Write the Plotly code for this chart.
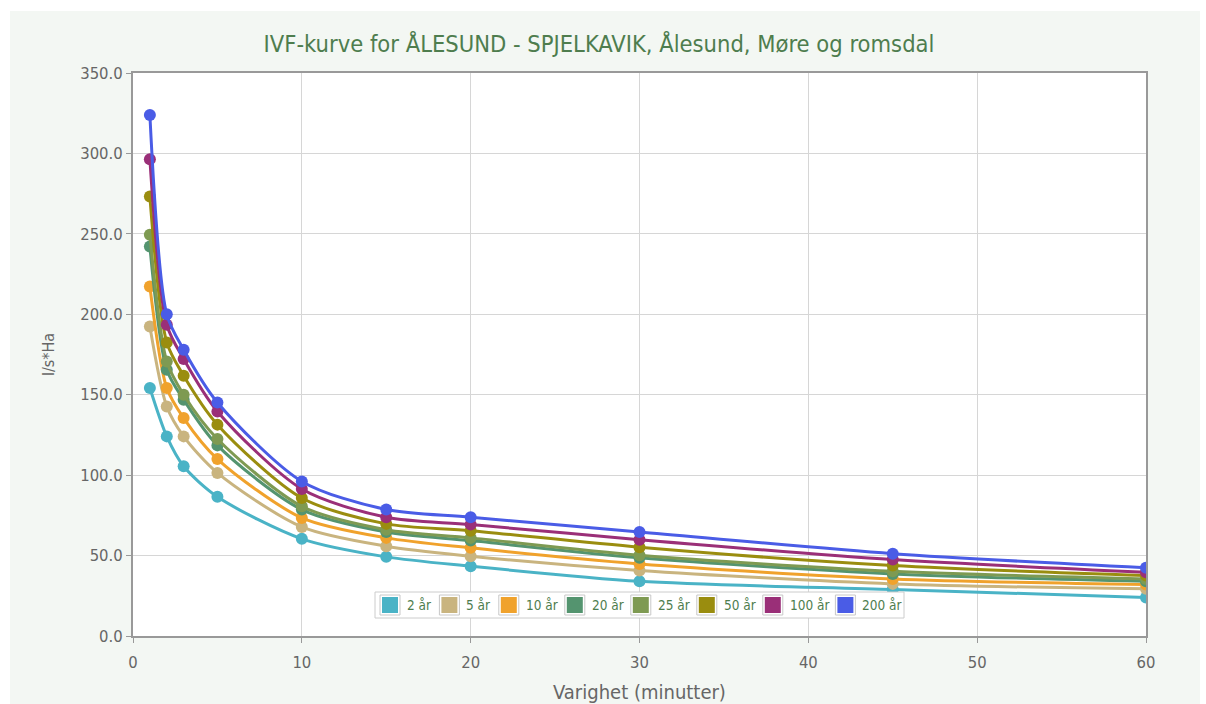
import plotly.graph_objects as go

# Duration (minutes) and intensity (l/s*Ha) per return period
varighet = [1, 2, 3, 5, 10, 15, 20, 30, 45, 60]

aar_2 = [154.2, 124.1, 105.5, 86.5, 60.4, 49.2, 43.4, 34.0, 28.9, 24.0]
aar_5 = [192.4, 142.7, 124.1, 101.4, 67.8, 55.8, 49.6, 40.7, 32.4, 29.3]
aar_10 = [217.3, 154.2, 135.5, 110.0, 73.4, 61.0, 54.8, 44.8, 35.5, 32.0]
aar_20 = [242.1, 165.5, 146.9, 118.5, 78.6, 64.7, 59.3, 48.6, 38.6, 34.0]
aar_25 = [249.4, 170.7, 150.0, 122.5, 80.6, 66.1, 61.0, 50.2, 40.2, 35.5]
aar_50 = [273.2, 182.5, 161.8, 131.4, 85.8, 69.7, 65.5, 55.2, 43.8, 37.6]
aar_100 = [296.4, 193.5, 172.2, 139.6, 91.4, 73.8, 69.3, 59.9, 47.5, 39.6]
aar_200 = [323.9, 200.0, 178.0, 145.2, 96.1, 78.6, 73.8, 64.7, 51.2, 42.4]

serie_navn = ["2 år", "5 år", "10 år", "20 år", "25 år", "50 år", "100 år", "200 år"]
serie_data = [aar_2, aar_5, aar_10, aar_20, aar_25, aar_50, aar_100, aar_200]
farger = ["#4ab3c6", "#c9b47f", "#f0a22c", "#54946f", "#7e9a52", "#9a8d0f", "#9a2f78", "#4a5ce6"]

TEXT_FONT = "Liberation Sans Narrow, DejaVu Sans Condensed, Roboto, sans-serif"
GREEN_TEXT = "#4e7d4e"
GREY_TEXT = "#666666"
PANEL = "#f3f7f3"

W, H = 1206, 704
M_L, M_R, M_T, M_B = 133, 60, 73, 68
PLOT_W = W - M_L - M_R
PLOT_H = H - M_T - M_B


def px_x(px):
    """Pixel column -> paper x."""
    return (px - M_L) / PLOT_W


def px_y(py):
    """Pixel row -> paper y."""
    return (H - M_B - py) / PLOT_H


fig = go.Figure()

# Curves (smoothed lines with point markers)
for navn, data, farge in zip(serie_navn, serie_data, farger):
    fig.add_trace(go.Scatter(
        x=varighet, y=data, name=navn,
        mode="lines+markers",
        line=dict(color=farge, width=3, shape="spline", smoothing=0.8),
        marker=dict(color=farge, size=12),
        showlegend=False,
        hoverinfo="x+y+name",
    ))

shapes = []

# White page strips around the light green panel
for x0, x1, y0, y1 in [
    (0, W, 0, 11),      # top strip
    (0, 10, 0, H),      # left strip
    (1200, W, 0, H),    # right strip
]:
    shapes.append(dict(type="rect", xref="paper", yref="paper",
                       x0=px_x(x0), x1=px_x(x1), y0=px_y(y1), y1=px_y(y0),
                       fillcolor="#ffffff", line=dict(width=0), layer="below"))

# Legend box drawn on top of the plot area
LEG_LEFT, LEG_RIGHT, LEG_TOP, LEG_BOTTOM = 375, 904, 592, 618
shapes.append(dict(type="rect", xref="paper", yref="paper",
                   x0=px_x(LEG_LEFT), x1=px_x(LEG_RIGHT),
                   y0=px_y(LEG_BOTTOM), y1=px_y(LEG_TOP),
                   fillcolor="#ffffff", line=dict(color="#cccccc", width=1),
                   layer="above"))

annotations = []
SW_OUT, SW_IN, TEXT_GAP, ITEM_GAP, CHAR_W = 20, 16, 5, 8, 6.6
cy = (LEG_TOP + LEG_BOTTOM) / 2
cx = 380
for navn, farge in zip(serie_navn, farger):
    # outer light frame + coloured square
    shapes.append(dict(type="rect", xref="paper", yref="paper",
                       x0=px_x(cx), x1=px_x(cx + SW_OUT),
                       y0=px_y(cy + SW_OUT / 2), y1=px_y(cy - SW_OUT / 2),
                       fillcolor="#ffffff", line=dict(color="#c8c8c8", width=1),
                       layer="above"))
    pad = (SW_OUT - SW_IN) / 2
    shapes.append(dict(type="rect", xref="paper", yref="paper",
                       x0=px_x(cx + pad), x1=px_x(cx + pad + SW_IN),
                       y0=px_y(cy + SW_IN / 2), y1=px_y(cy - SW_IN / 2),
                       fillcolor=farge, line=dict(width=0), layer="above"))
    tx = cx + SW_OUT + TEXT_GAP
    annotations.append(dict(text=navn, xref="paper", yref="paper",
                            x=px_x(tx), y=px_y(cy), xanchor="left", yanchor="middle",
                            showarrow=False,
                            font=dict(family=TEXT_FONT, size=13.5, color=GREEN_TEXT)))
    cx = tx + CHAR_W * len(navn) + ITEM_GAP

fig.update_layout(
    width=W, height=H,
    margin=dict(l=M_L, r=M_R, t=M_T, b=M_B),
    paper_bgcolor=PANEL,
    plot_bgcolor="#ffffff",
    showlegend=False,
    shapes=shapes,
    annotations=annotations,
    title=dict(
        text="IVF-kurve for ÅLESUND - SPJELKAVIK, Ålesund, Møre og romsdal",
        x=599 / W, xanchor="center", y=1 - 44 / H, yanchor="middle",
        font=dict(family=TEXT_FONT, size=23.5, color=GREEN_TEXT),
    ),
    xaxis=dict(
        range=[0, 60], dtick=10, tick0=0, automargin=False,
        showgrid=True, gridcolor="#d6d6d6", gridwidth=1,
        showline=True, linecolor="#999999", linewidth=2, mirror=True,
        ticks="outside", ticklen=5, tickcolor="#999999",
        ticklabelstandoff=5,
        tickfont=dict(family=TEXT_FONT, size=16.5, color=GREY_TEXT),
        zeroline=False,
        title=dict(text="Varighet (minutter)", standoff=14,
                   font=dict(family=TEXT_FONT, size=20, color=GREY_TEXT)),
    ),
    yaxis=dict(
        range=[0, 350], dtick=50, tick0=0, tickformat=".1f", automargin=False,
        showgrid=True, gridcolor="#d6d6d6", gridwidth=1,
        showline=True, linecolor="#999999", linewidth=2, mirror=True,
        ticks="outside", ticklen=5, tickcolor="#999999",
        tickfont=dict(family=TEXT_FONT, size=16.5, color=GREY_TEXT),
        zeroline=False,
        title=dict(text="l/s*Ha", standoff=22,
                   font=dict(family=TEXT_FONT, size=16, color=GREY_TEXT)),
    ),
)

fig.write_html("out.html")
